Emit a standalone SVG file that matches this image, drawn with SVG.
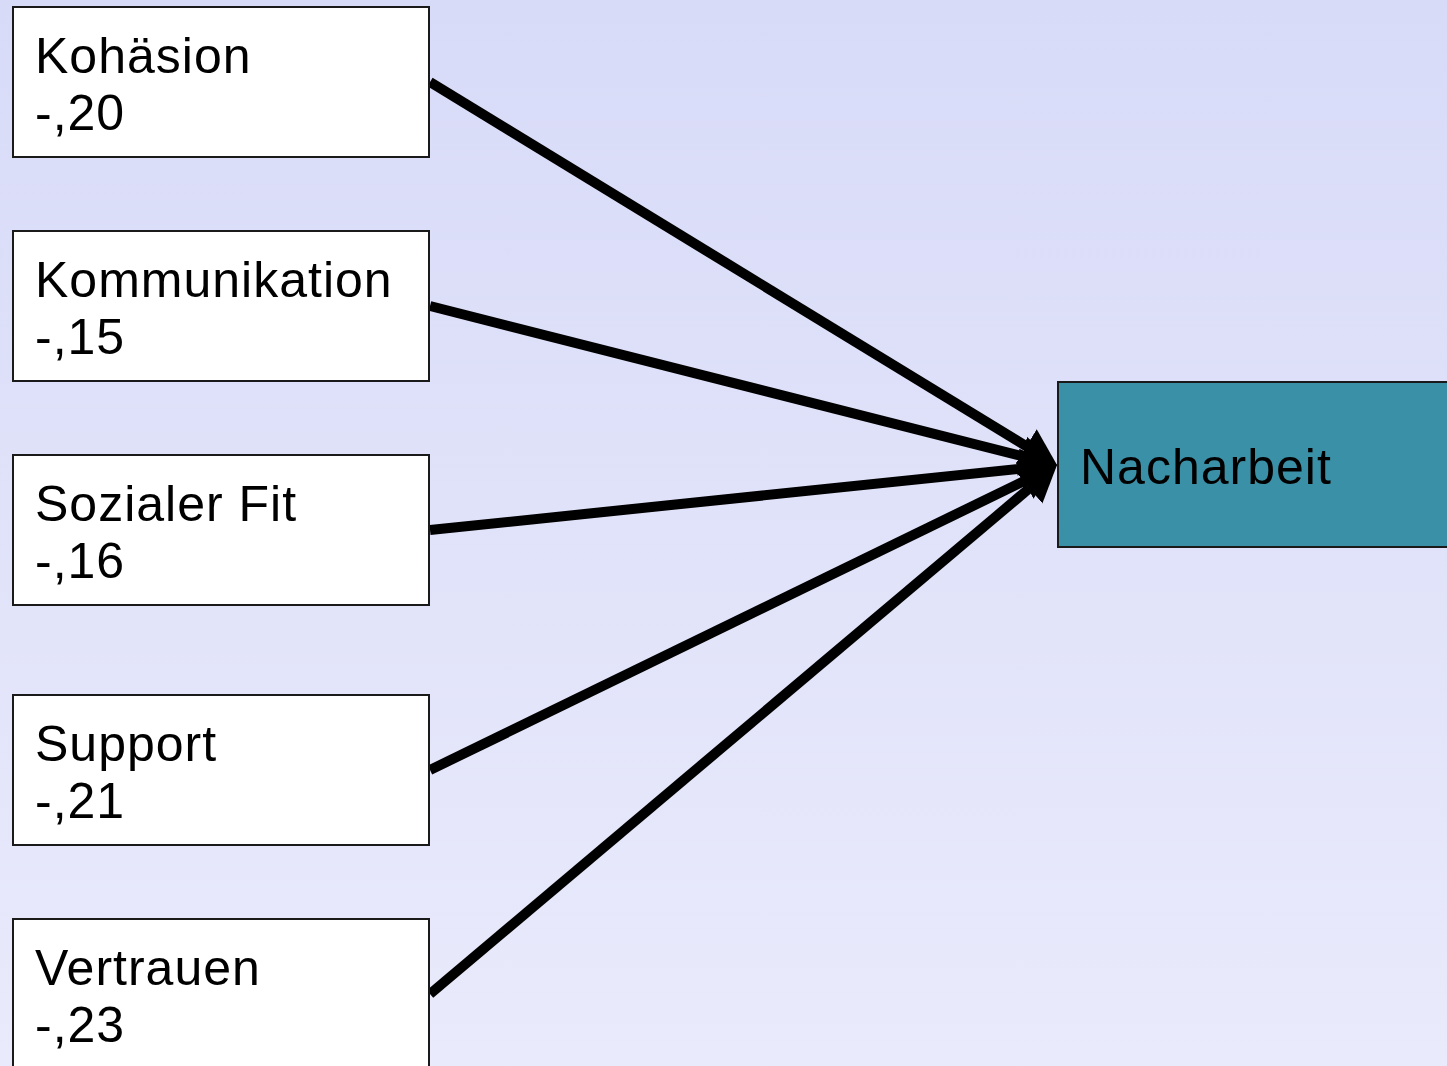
<svg xmlns="http://www.w3.org/2000/svg" width="1447" height="1066" viewBox="0 0 1447 1066">
  <defs>
    <linearGradient id="bg" x1="0" y1="0" x2="0" y2="1">
      <stop offset="0" stop-color="#d8dbf8"/>
      <stop offset="1" stop-color="#e9eafb"/>
    </linearGradient>
    <marker id="head" markerUnits="userSpaceOnUse" markerWidth="38" markerHeight="44" viewBox="0 0 38 44" refX="0" refY="22" orient="auto">
      <path d="M0,2 L36,22 L0,42 z" fill="#000"/>
    </marker>
    <style>
      .box { fill: #fff; stroke: #1a1a1a; stroke-width: 2; }
      .target { fill: #3a90a6; stroke: #1a1a1a; stroke-width: 2; }
      .lbl { font-family: "Liberation Sans", Arial, sans-serif; font-size: 50px; fill: #000; letter-spacing: 1px; }
      .edge { stroke: #000; stroke-width: 10; fill: none; marker-end: url(#head); }
    </style>
  </defs>

  <rect width="1447" height="1066" fill="url(#bg)"/>

  <!-- edges end at the arrowhead base; the marker reaches the tip at (1057,465) -->
  <g id="connectors">
    <line class="edge" x1="430" y1="82" x2="1026.3" y2="446.2"/>
    <line class="edge" x1="430" y1="306" x2="1022.1" y2="456.2"/>
    <line class="edge" x1="430" y1="530" x2="1021.2" y2="468.7"/>
    <line class="edge" x1="430" y1="770" x2="1024.6" y2="480.8"/>
    <line class="edge" x1="430" y1="994" x2="1029.5" y2="488.2"/>
  </g>

  <g id="kohaesion">
    <rect class="box" x="13" y="7" width="416" height="150"/>
    <text class="lbl" x="35" y="73">Kohäsion</text>
    <text class="lbl" x="35" y="130">-,20</text>
  </g>

  <g id="kommunikation">
    <rect class="box" x="13" y="231" width="416" height="150"/>
    <text class="lbl" x="35" y="297">Kommunikation</text>
    <text class="lbl" x="35" y="354">-,15</text>
  </g>

  <g id="sozialer-fit">
    <rect class="box" x="13" y="455" width="416" height="150"/>
    <text class="lbl" x="35" y="521">Sozialer Fit</text>
    <text class="lbl" x="35" y="578">-,16</text>
  </g>

  <g id="support">
    <rect class="box" x="13" y="695" width="416" height="150"/>
    <text class="lbl" x="35" y="761">Support</text>
    <text class="lbl" x="35" y="818">-,21</text>
  </g>

  <g id="vertrauen">
    <rect class="box" x="13" y="919" width="416" height="160"/>
    <text class="lbl" x="35" y="985">Vertrauen</text>
    <text class="lbl" x="35" y="1042">-,23</text>
  </g>

  <g id="nacharbeit">
    <rect class="target" x="1058" y="382" width="400" height="165"/>
    <text class="lbl" x="1080" y="484">Nacharbeit</text>
  </g>
</svg>
